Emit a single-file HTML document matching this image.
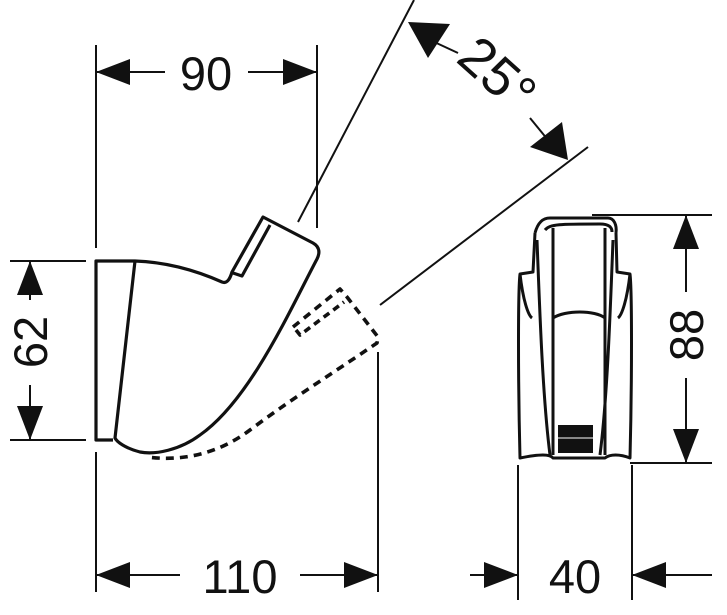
<!DOCTYPE html>
<html><head><meta charset="utf-8"><style>
html,body{margin:0;padding:0;background:#fff;}
svg{display:block;}
text{font-family:"Liberation Sans",sans-serif;font-size:47px;fill:#111;}
</style></head><body>
<svg width="727" height="615" viewBox="0 0 727 615" xmlns="http://www.w3.org/2000/svg">
<g stroke="#111" stroke-width="2" fill="none">
<line x1="96" y1="45" x2="96" y2="248"/>
<line x1="96" y1="452" x2="96" y2="592"/>
<line x1="317" y1="45" x2="317" y2="228"/>
<line x1="378" y1="352" x2="378" y2="592"/>
<line x1="10" y1="261" x2="86" y2="261"/>
<line x1="10" y1="440" x2="86" y2="440"/>
<line x1="298" y1="222" x2="414" y2="0"/>
<line x1="380" y1="305" x2="588" y2="147"/>
<line x1="592" y1="215" x2="712" y2="215"/>
<line x1="630" y1="463" x2="712" y2="463"/>
<line x1="518" y1="465" x2="518" y2="600"/>
<line x1="632" y1="465" x2="632" y2="600"/>
<line x1="96" y1="72" x2="165" y2="72"/>
<line x1="248" y1="72" x2="317" y2="72"/>
<line x1="96" y1="575" x2="180" y2="575"/>
<line x1="300" y1="575" x2="378" y2="575"/>
<line x1="30" y1="261" x2="30" y2="300"/>
<line x1="30" y1="385" x2="30" y2="440"/>
<line x1="686" y1="215" x2="686" y2="292"/>
<line x1="686" y1="378" x2="686" y2="463"/>
<line x1="470" y1="575" x2="518" y2="575"/>
<line x1="632" y1="575" x2="712" y2="575"/>
<line x1="430" y1="40" x2="458" y2="53"/>
<line x1="530" y1="118" x2="548" y2="140"/>
</g>
<g fill="#111">
<polygon points="96,72 130,59 130,85"/>
<polygon points="317,72 283,59 283,85"/>
<polygon points="96,575 130,562 130,588"/>
<polygon points="378,575 344,562 344,588"/>
<polygon points="30,261 17,295 43,295"/>
<polygon points="30,440 17,406 43,406"/>
<polygon points="686,215 673,249 699,249"/>
<polygon points="686,463 673,429 699,429"/>
<polygon points="518,575 484,562 484,588"/>
<polygon points="632,575 666,562 666,588"/>
<polygon points="408,22 450,24 428,58"/>
<polygon points="568,160 562,122 530,147"/>
</g>
<text x="206" y="90" text-anchor="middle">90</text>
<text x="240" y="593" text-anchor="middle">110</text>
<text x="575" y="593" text-anchor="middle">40</text>
<text transform="translate(47,342) rotate(-90)" text-anchor="middle">62</text>
<text transform="translate(703,335) rotate(-90)" text-anchor="middle">88</text>
<text transform="translate(485,88) rotate(42)" text-anchor="middle" style="font-size:54px">25°</text>
<g stroke="#111" stroke-width="3.2" fill="none" stroke-linejoin="round">
<path d="M113,261 L96,261 L96,440 L113,440"/>
<path d="M113,261 L135,261 C165,262 195,270 222,282 C227,284 230,279 232,272 L263,217 L313,243 C320,247 320,253 317,259 C290,310 250,400 200,435 C180,450 155,455 140,452 C125,448 117,442 115,438 L135,261"/>
<path d="M233,273 L242,276 L270,225"/>
<path d="M293,327 L340,289 L347,297 L378,337 L377,343 C330,375 290,400 250,430 C210,460 170,460 147,457" stroke-dasharray="8,6" stroke-width="3.6"/>
<path d="M296,330 L300,335 L344,302" stroke-dasharray="7,5" stroke-width="3.6"/>
</g>
<g stroke="#111" stroke-width="3" fill="none" stroke-linejoin="round">
<path d="M535,233 C538,222 543,218 550,218 L608,218 C614,218 617,225 616,233"/>
<path d="M535,233 L533,272 L520,274 C518,290 518,380 520,458 C540,454 550,454 553,458 L605,458 C610,454 620,454 630,458 C632,380 632,290 630,274 L617,272 L616,233"/>
<path d="M520,274 C523,300 528,315 532,318"/>
<path d="M630,274 C627,300 622,315 618,318"/>
<path d="M537,240 C540,320 543,400 550,455"/>
<path d="M613,240 C610,320 607,400 600,455"/>
<line x1="553" y1="228" x2="553" y2="455"/>
<line x1="605" y1="228" x2="605" y2="455"/>
<path d="M553,318 C565,310 595,310 605,318"/>
<path d="M545,230 C550,224 560,224 600,224 C610,224 612,228 612,232"/>
</g>
<rect x="558" y="425" width="35" height="28" fill="#111"/>
<line x1="558" y1="438" x2="593" y2="438" stroke="#fff" stroke-width="1"/>
</svg>
</body></html>
